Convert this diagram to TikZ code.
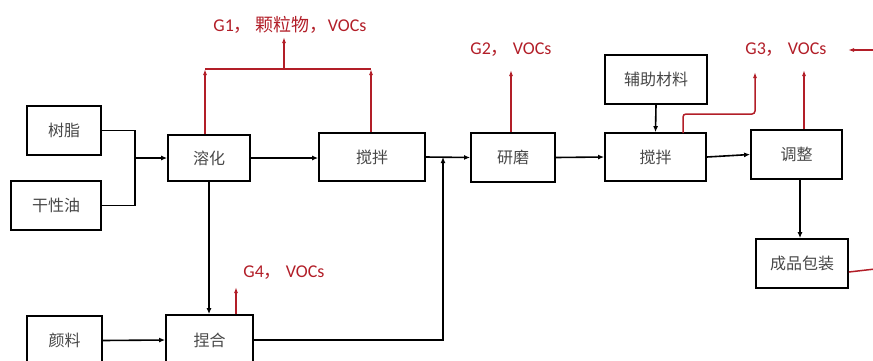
\documentclass[tikz,border=0pt]{standalone}
\usepackage{fontspec}
\setmainfont{Carlito}
\newfontfamily\cjk{Noto Sans CJK SC}
\usetikzlibrary{arrows.meta}
\definecolor{gasred}{RGB}{178,30,40}
\tikzset{
  proc/.style={draw, line width=1.8pt, inner sep=0pt, text=black!72,
    font=\cjk\fontsize{16}{18}\selectfont},
  flow/.style={line width=1.6pt, -{Latex[length=6pt,width=5pt]}},
  gas/.style={draw=gasred, line width=1.5pt, -{Latex[length=6pt,width=4pt]}},
  gasline/.style={draw=gasred, line width=1.5pt},
  gaslabel/.style={text=gasred, inner sep=0pt, font=\fontsize{18}{20}\selectfont}
}
\begin{document}
\begin{tikzpicture}[x=1pt,y=-1pt]
\useasboundingbox (0,0) rectangle (873,360);
\clip (0,0) rectangle (873,360);

\node[proc, minimum width=74pt, minimum height=49pt] (shuzhi) at (64,130.5) {树脂};
\node[proc, minimum width=90pt, minimum height=49pt] (ganyou) at (56,205.5) {干性油};
\node[proc, minimum width=82pt, minimum height=46pt] (ronghua) at (209,158) {溶化};
\node[proc, minimum width=106pt, minimum height=48pt] (jiaoban1) at (372,157) {搅拌};
\node[proc, minimum width=84pt, minimum height=49pt] (yanmo) at (513,157.5) {研磨};
\node[proc, minimum width=101pt, minimum height=48pt] (jiaoban2) at (655.5,157) {搅拌};
\node[proc, minimum width=102pt, minimum height=49pt] (fuzhu) at (656,79.5) {辅助材料};
\node[proc, minimum width=91pt, minimum height=49pt] (tiaozheng) at (796.5,154.5) {调整};
\node[proc, minimum width=92pt, minimum height=49pt] (baozhuang) at (802,263.5) {成品包装};
\node[proc, minimum width=75pt, minimum height=49pt] (yanliao) at (64.5,340.5) {颜料};
\node[proc, minimum width=87pt, minimum height=50pt] (niehe) at (209.5,340) {捏合};

\coordinate (merge) at (135,158);
\coordinate (join) at (443,157);
\draw[line width=1.6pt] (shuzhi.east) -| (merge);
\draw[line width=1.6pt] (ganyou.east) -| (merge);
\draw[flow] (merge) -- (ronghua.west);
\draw[flow] (ronghua.east) -- (ronghua.east -| jiaoban1.west);
\draw[flow] (jiaoban1.east) -- (yanmo.west);
\draw[flow] (niehe.east) -| (join);
\draw[flow] (yanmo.east) -- (jiaoban2.west);
\draw[flow] (jiaoban2.east) -- (tiaozheng.west);
\draw[flow] (fuzhu.south) -- (jiaoban2.north);
\draw[flow] ([xshift=3.5pt]tiaozheng.south) -- ([xshift=3.5pt]tiaozheng.south |- baozhuang.north);
\draw[flow] (ronghua.south) -- (ronghua.south |- niehe.north);
\draw[flow] (yanliao.east) -- (niehe.west);

\node[gaslabel] (g1txt) at (290,25) {G1{\cjk，\ 颗粒物，}VOCs};
\coordinate (g1l) at (205,69);
\coordinate (g1r) at (371,69);
\coordinate (g1m) at (284,69);
\coordinate (g1top) at (284,37);
\draw[gas] (ronghua.north -| g1l) -- (g1l);
\draw[gas] (jiaoban1.north -| g1r) -- (g1r);
\draw[gasline] (g1l) -- (g1r);
\draw[gas] (g1m) -- (g1top);

\node[gaslabel] (g2txt) at (511,50) {G2{\cjk，\ }VOCs};
\coordinate (g2top) at (511,70);
\draw[gas] (yanmo.north -| g2top) -- (g2top);

\node[gaslabel] (g3txt) at (786,50) {G3{\cjk，\ }VOCs};
\coordinate (g3top) at (755,72);
\coordinate (g3foot) at (683,133);
\draw[gas, rounded corners=3pt] (g3foot) -- ++(0,-19) -- (g3top |- 0,114) -- (g3top);
\coordinate (g3btop) at (804,70);
\draw[gas] (tiaozheng.north -| g3btop) -- (g3btop);

\coordinate (edgeA) at (873,50);
\coordinate (tipA) at (848,50);
\draw[gas] (edgeA) -- (tipA);
\coordinate (edgeB) at (875,269);
\draw[gasline] (baozhuang.east |- 0,272) -- (edgeB);

\node[gaslabel] (g4txt) at (284,273) {G4{\cjk，\ }VOCs};
\coordinate (g4top) at (236,287);
\draw[gas] (niehe.north -| g4top) -- (g4top);
\end{tikzpicture}
\end{document}
